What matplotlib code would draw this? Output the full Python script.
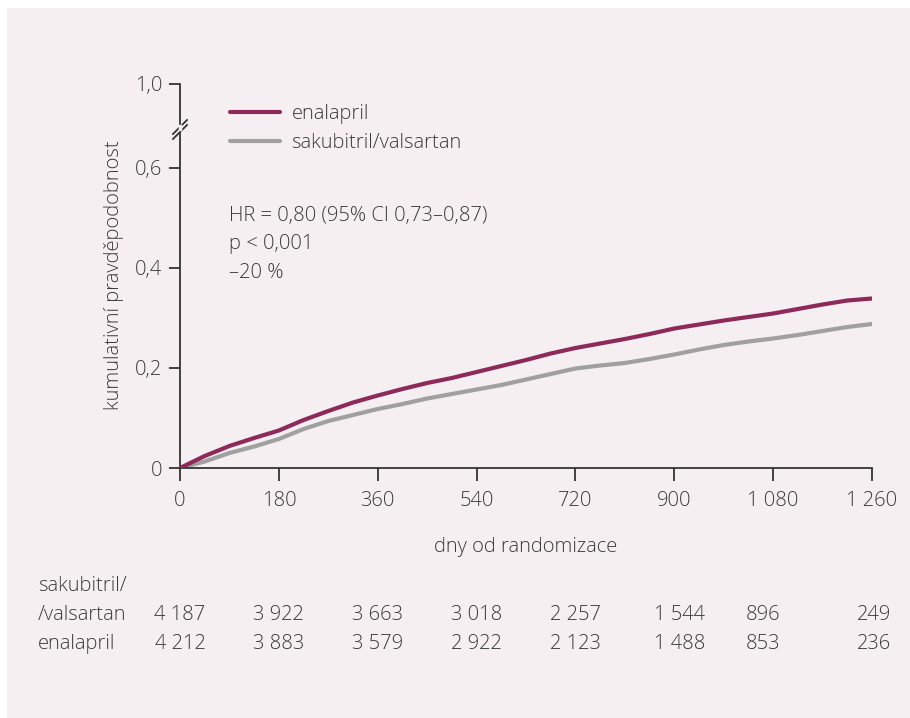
import matplotlib
matplotlib.use("Agg")
import matplotlib.pyplot as plt
from matplotlib.patches import Rectangle
from matplotlib.lines import Line2D
import matplotlib.transforms as mtransforms

plt.rcParams['font.family'] = ['Open Sans', 'DejaVu Sans']
plt.rcParams['font.weight'] = 'light'
plt.rcParams['axes.labelweight'] = 'light'

# ---------------- data ----------------
days = [0, 45, 90, 135, 180, 225, 270, 315, 360, 405, 450, 495, 540, 585, 630,
        675, 720, 765, 810, 855, 900, 945, 990, 1035, 1080, 1125, 1170, 1215, 1260]
enalapril = [0, 0.024, 0.044, 0.060, 0.075, 0.096, 0.114, 0.131, 0.145, 0.158,
             0.170, 0.180, 0.192, 0.204, 0.216, 0.229, 0.240, 0.249, 0.258, 0.268,
             0.279, 0.287, 0.295, 0.302, 0.309, 0.318, 0.327, 0.335, 0.339]
sakubitril = [0, 0.013, 0.030, 0.043, 0.058, 0.078, 0.094, 0.106, 0.118, 0.128,
              0.139, 0.148, 0.157, 0.166, 0.177, 0.188, 0.199, 0.205, 0.210, 0.218,
              0.227, 0.237, 0.246, 0.253, 0.259, 0.266, 0.274, 0.282, 0.288]

x_ticks = [0, 180, 360, 540, 720, 900, 1080, 1260]
x_tick_labels = ['0', '180', '360', '540', '720', '900', '1 080', '1 260']
y_ticks = [0, 0.2, 0.4, 0.6]
y_tick_labels = ['0', '0,2', '0,4', '0,6', '1,0']

risk_sakubitril = ['4 187', '3 922', '3 663', '3 018', '2 257', '1 544', '896', '249']
risk_enalapril = ['4 212', '3 883', '3 579', '2 922', '2 123', '1 488', '853', '236']

series_names = ['enalapril', 'sakubitril/valsartan']
stats_lines = ['HR = 0,80 (95% CI 0,73–0,87)', 'p < 0,001', '–20 %']

# ---------------- style ----------------
W, H = 910, 718
BG = '#f5eff2'
C_ENA = '#8e2a5a'
C_SAK = '#a0a0a0'
TXT = '#3a3a3a'
SPINE = '#333333'
FS = 14.5
BREAK_TOP = 0.768   # axis position where the "1,0" label sits above the break
RISK_NUDGE_PX = [0, 0, 0, 0, 0, 5, -10, 2]

fig = plt.figure(figsize=(W / 100, H / 100), dpi=100, facecolor='white')
fig.add_artist(Rectangle((7 / W, -0.02), 1.05, 1.02 - 8 / H, transform=fig.transFigure,
                         facecolor=BG, edgecolor='none', zorder=-10))

def fx(px):
    return px / W

def fy(py):
    return 1 - py / H

ax = fig.add_axes([fx(180), fy(468), fx(872) - fx(180), fy(84) - fy(468)])
ax.set_facecolor('none')

ax.plot(days, enalapril, color=C_ENA, lw=3, solid_capstyle='round', label=series_names[0], zorder=3)
ax.plot(days, sakubitril, color=C_SAK, lw=3, solid_capstyle='round', label=series_names[1], zorder=2)

ax.set_xlim(0, 1260)
ax.set_ylim(0, BREAK_TOP)
ax.set_xticks(x_ticks)
ax.set_xticklabels(x_tick_labels)
ax.set_yticks(y_ticks + [BREAK_TOP])
ax.set_yticklabels(y_tick_labels)

for s in ['top', 'right']:
    ax.spines[s].set_visible(False)
for s in ['left', 'bottom']:
    ax.spines[s].set_color(SPINE)
    ax.spines[s].set_linewidth(1.3)
ax.tick_params(axis='x', length=9, width=1.3, color=SPINE, labelsize=FS, labelcolor=TXT, pad=7.5)
ax.tick_params(axis='y', length=8, width=1.3, color=SPINE, labelsize=FS, labelcolor=TXT, pad=5)

# axis break marks
for dy in (0, 5):
    fig.add_artist(Line2D([fx(173), fx(187)], [fy(134 + dy), fy(120 + dy)],
                          transform=fig.transFigure, color=SPINE, lw=1.3))
fig.add_artist(Line2D([fx(180), fx(180)], [fy(128.5), fy(126)],
                      transform=fig.transFigure, color=BG, lw=2.5))

ax.set_xlabel('dny od randomizace', fontsize=FS, color=TXT, labelpad=19)
ax.set_ylabel('kumulativní pravděpodobnost', fontsize=FS, color=TXT)
ax.yaxis.set_label_coords(fx(106) - fx(180), 0.5 + ((468 + 84) / 2 - 275) / (468 - 84))

leg = ax.legend(loc='upper left', bbox_to_anchor=(fx(230), fy(104)), bbox_transform=fig.transFigure,
                frameon=False, fontsize=FS, handlelength=2.5, handletextpad=0.55,
                labelspacing=0.45, borderpad=0, borderaxespad=0)
for t in leg.get_texts():
    t.set_color(TXT)

for i, line in enumerate(stats_lines):
    fig.text(fx(229), fy(216 + 28.5 * i), line, fontsize=FS, color=TXT, va='center', ha='left')

# numbers at risk
blend = mtransforms.blended_transform_factory(ax.transData, fig.transFigure)
fig.text(fx(38), fy(586), 'sakubitril/', fontsize=FS, color=TXT, va='center', ha='left')
fig.text(fx(38), fy(615), '/valsartan', fontsize=FS, color=TXT, va='center', ha='left')
fig.text(fx(38), fy(644), 'enalapril', fontsize=FS, color=TXT, va='center', ha='left')
for xt, nudge, a, b in zip(x_ticks, RISK_NUDGE_PX, risk_sakubitril, risk_enalapril):
    off = mtransforms.offset_copy(blend, fig=fig, x=nudge, y=0, units='dots')
    ax.text(xt, fy(615), a, transform=off, fontsize=FS, color=TXT, va='center', ha='center')
    ax.text(xt, fy(644), b, transform=off, fontsize=FS, color=TXT, va='center', ha='center')

fig.savefig('out.png', dpi=100, facecolor='white')
